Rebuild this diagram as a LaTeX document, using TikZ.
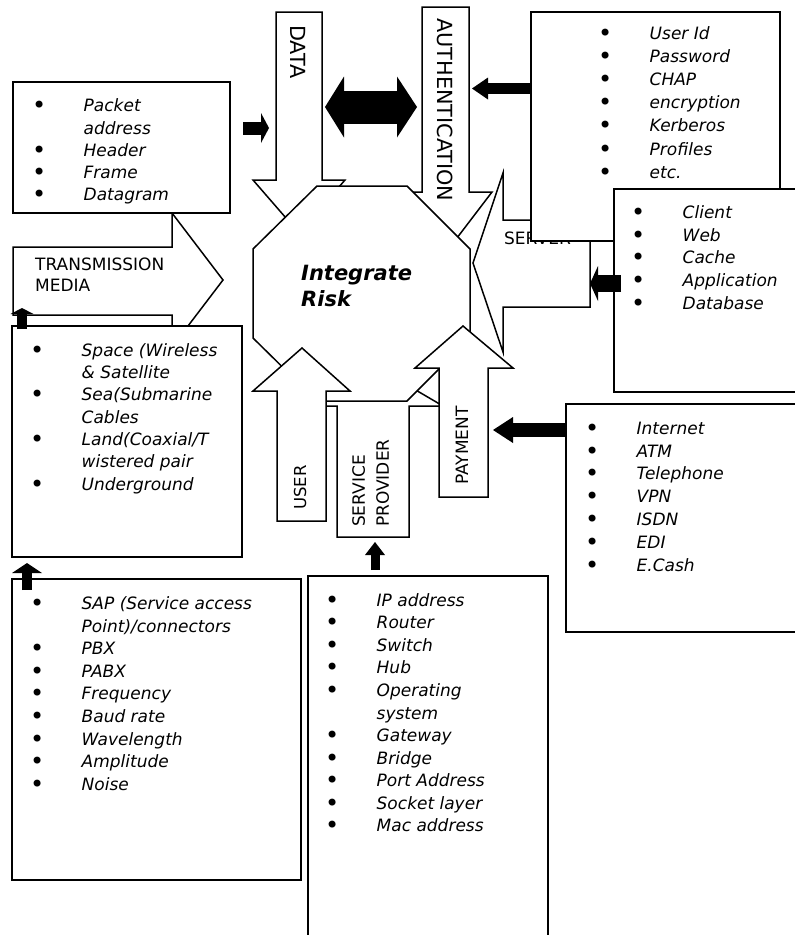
\documentclass[tikz,border=0pt]{standalone}
\usepackage{fontspec}
\setmainfont{DejaVu Sans}
\usetikzlibrary{arrows.meta}

% bullet line and continuation line of a list
\newcommand\listdot{\raisebox{-2pt}{\fontsize{24}{24}\selectfont\upshape\textbullet}}
\newcommand\bitem[1]{\rule{0pt}{13pt}\makebox[49.5pt][l]{\hspace*{5pt}\makebox[0pt][c]{\listdot}}#1}
\newcommand\citem[1]{\rule{0pt}{13pt}\hspace*{49.5pt}#1}

\tikzset{
  box/.style={draw, line width=1.8pt, fill=white, anchor=north west,
    inner sep=0pt, outer sep=0pt},
  blockarrow/.style={draw, line width=1.5pt, fill=white, line join=miter},
  listtext/.style={anchor=north west, inner sep=0pt, align=left,
    font=\fontsize{17}{#1}\selectfont\itshape},
  caption/.style={inner sep=0pt, font=\fontsize{17}{21}\selectfont},
  bigcaption/.style={inner sep=0pt, font=\fontsize{20.8}{24}\selectfont},
  pointer/.style 2 args={draw=black, line width=#1,
    -{Triangle[#2, line width=0pt]}},
}

\begin{document}
\begin{tikzpicture}[x=1pt, y=-1pt]
\useasboundingbox (0,0) rectangle (795,935);
\clip (0,0) rectangle (795,935);
\fill[white] (0,0) rectangle (795,935);

% ---- block arrows behind the hub ----
\draw[blockarrow] (13,247) -- (172,247) -- (172,213) -- (223,280)
  -- (172,347) -- (172,315) -- (13,315) -- cycle;
\node[caption, anchor=north west, align=left] (tmL) at (35,258) {TRANSMISSION\\MEDIA};

\draw[blockarrow] (276,12) -- (322,12) -- (322,180) -- (345,180)
  -- (299,233) -- (253,180) -- (276,180) -- cycle;
\node[bigcaption, rotate=-90, anchor=west] (dataL) at (298,25) {DATA};

\draw[blockarrow] (422,7) -- (469,7) -- (469,192) -- (492,192)
  -- (445.5,253) -- (399,192) -- (422,192) -- cycle;
\node[bigcaption, rotate=-90, anchor=west] (authL) at (445,18) {AUTHENTICATION};

\draw[blockarrow] (590,220) -- (590,307) -- (503,307) -- (503,352)
  -- (473,263) -- (503,173) -- (503,220) -- cycle;
\node[caption, anchor=base west] (servL) at (504,244) {SERVER};

\draw[blockarrow] (337,537) -- (409,537) -- (409,406) -- (443,406)
  -- (373,365) -- (303,406) -- (337,406) -- cycle;
\node[caption, font=\fontsize{17}{24}\selectfont, rotate=90, anchor=north west,
  align=left] (spL) at (352,527) {SERVICE\\PROVIDER};

% ---- the hub ----
\draw[blockarrow] (317,186) -- (407,186) -- (470,249) -- (470,338)
  -- (407,401) -- (317,401) -- (253,338) -- (253,249) -- cycle;
\node[anchor=north west, inner sep=0pt, align=left,
  font=\fontsize{21}{26.7}\selectfont\bfseries\itshape] (risk) at (301,264.7)
  {Integrate\\Risk};

% ---- block arrows over the hub ----
\draw[blockarrow] (277,521) -- (326,521) -- (326,391) -- (350,391)
  -- (302,348) -- (253,391) -- (277,391) -- cycle;
\node[caption, font=\fontsize{16.5}{21}\selectfont, rotate=90, anchor=west] (userL) at (300,510) {USER};

\draw[blockarrow] (439,497) -- (488,497) -- (488,368) -- (513,368)
  -- (463,326) -- (415,368) -- (439,368) -- cycle;
\node[caption, rotate=90, anchor=west] (payL) at (462,485) {PAYMENT};

% ---- list boxes ----
\node[box, minimum width=217pt, minimum height=131pt] (pkt) at (13,82) {};
\begin{scope}
  \clip (13,82) rectangle (230,203);
  \node[listtext=22.1] (pktL) at (34,98.7)
    {\bitem{Packet}\\\citem{address}\\\bitem{Header}\\\bitem{Frame}\\\bitem{Datagram}};
\end{scope}

\node[box, minimum width=230pt, minimum height=231pt] (space) at (12,326) {};
\node[listtext=22.3] (spaceL) at (32,343)
  {\bitem{Space (Wireless}\\\citem{\& Satellite}\\\bitem{Sea(Submarine}\\\citem{Cables}\\
   \bitem{Land(Coaxial/T}\\\citem{wistered pair}\\\bitem{Underground}};

\node[box, minimum width=249pt, minimum height=229pt] (uid) at (531,12) {};
\node[listtext=23.1] (uidL) at (600,26.3)
  {\bitem{User Id}\\\bitem{Password}\\\bitem{CHAP}\\\bitem{encryption}\\
   \bitem{Kerberos}\\\bitem{Profiles}\\\bitem{etc.}};

\node[box, minimum width=200pt, minimum height=203pt] (cli) at (614,189) {};
\node[listtext=22.8] (cliL) at (633,205)
  {\bitem{Client}\\\bitem{Web}\\\bitem{Cache}\\\bitem{Application}\\\bitem{Database}};

\node[box, minimum width=250pt, minimum height=228pt] (inet) at (566,404) {};
\node[listtext=22.8] (inetL) at (587,421)
  {\bitem{Internet}\\\bitem{ATM}\\\bitem{Telephone}\\\bitem{VPN}\\
   \bitem{ISDN}\\\bitem{EDI}\\\bitem{E.Cash}};

\node[box, minimum width=289pt, minimum height=301pt] (sap) at (12,579) {};
\node[listtext=22.6] (sapL) at (32,596.3)
  {\bitem{SAP (Service access}\\\citem{Point)/connectors}\\\bitem{PBX}\\\bitem{PABX}\\
   \bitem{Frequency}\\\bitem{Baud rate}\\\bitem{Wavelength}\\\bitem{Amplitude}\\\bitem{Noise}};

\node[box, minimum width=240pt, minimum height=370pt] (ip) at (308,576) {};
\node[listtext=22.57] (ipL) at (327,593)
  {\bitem{IP address}\\\bitem{Router}\\\bitem{Switch}\\\bitem{Hub}\\
   \bitem{Operating}\\\citem{system}\\\bitem{Gateway}\\\bitem{Bridge}\\
   \bitem{Port Address}\\\bitem{Socket layer}\\\bitem{Mac address}};

% ---- solid pointers ----
\coordinate (p1s) at (243,128);   \coordinate (p1e) at (269,128);
\draw[pointer={13pt}{length=8pt,width=30pt}] (p1s) -- (p1e);

\coordinate (d1) at (325,107);    \coordinate (d2) at (417,107);
\draw[draw=black, line width=33pt,
  {Triangle[length=19pt,width=61pt,line width=0pt]}-{Triangle[length=20pt,width=61pt,line width=0pt]}]
  (d1) -- (d2);

\coordinate (p3s) at (uid.west |- 0,88.5);  \coordinate (p3e) at (472,88.5);
\draw[pointer={11pt}{length=16pt,width=22pt}] (p3s) -- (p3e);

\coordinate (p4s) at (621,283.5); \coordinate (p4e) at (590,283.5);
\draw[pointer={17pt}{length=8pt,width=35pt}] (p4s) -- (p4e);

\coordinate (p5s) at (inet.west |- 0,430); \coordinate (p5e) at (493,430);
\draw[pointer={14pt}{length=20pt,width=26pt}] (p5s) -- (p5e);

\coordinate (p6s) at (375,570);   \coordinate (p6e) at (375,542);
\draw[pointer={9pt}{length=13pt,width=20pt}] (p6s) -- (p6e);

\coordinate (p7s) at (22,329);    \coordinate (p7e) at (22,308);
\draw[pointer={10pt}{length=6pt,width=23pt}] (p7s) -- (p7e);

\coordinate (p8s) at (27,590);    \coordinate (p8e) at (27,563);
\draw[pointer={10pt}{length=10pt,width=30pt}] (p8s) -- (p8e);
\end{tikzpicture}
\end{document}
